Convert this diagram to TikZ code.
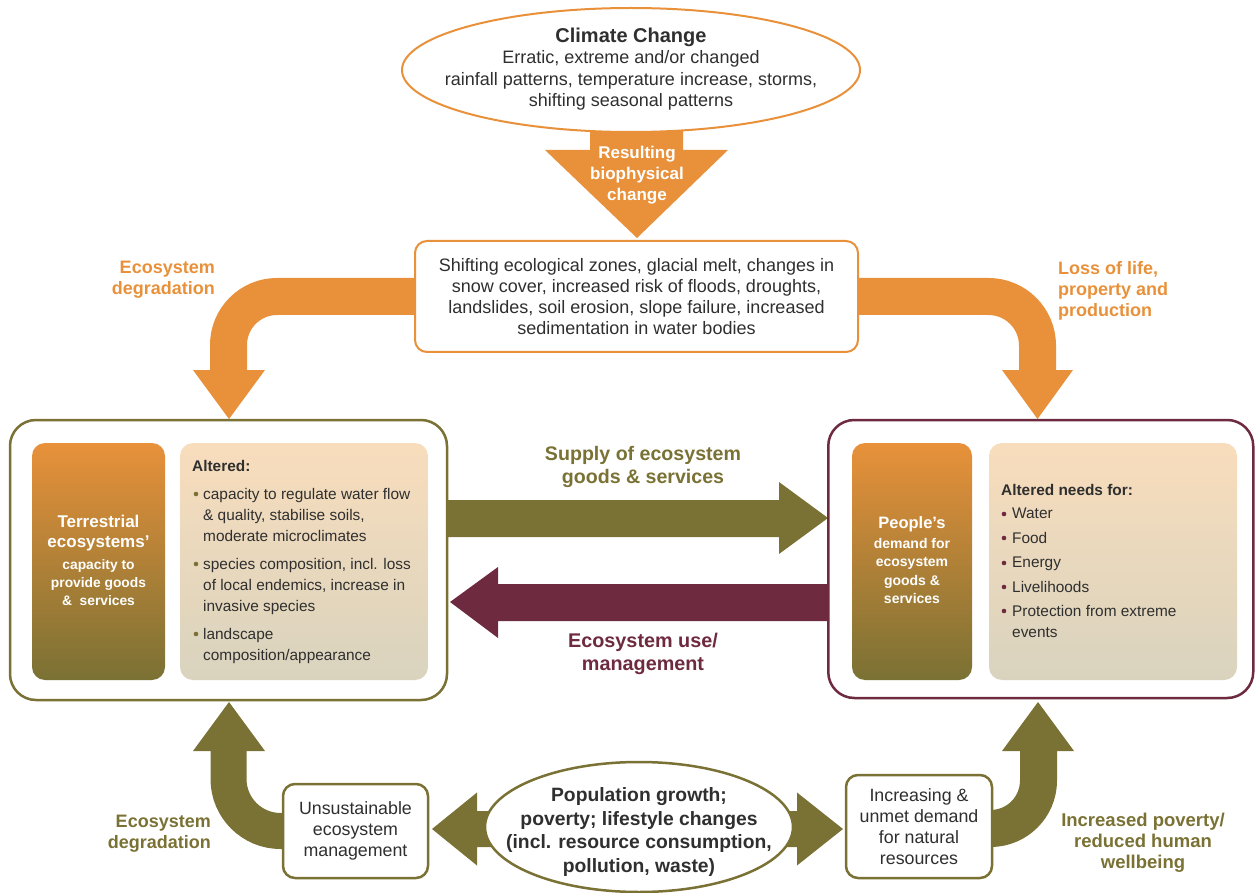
\documentclass[tikz,border=0pt]{standalone}
\usepackage{fontspec}
\setmainfont{Liberation Sans}
\usetikzlibrary{shapes.geometric,calc}
\definecolor{corange}{HTML}{E8913A}
\definecolor{colive}{HTML}{7A7134}
\definecolor{cmaroon}{HTML}{6E2A3F}
\definecolor{ctext}{HTML}{2F2F2F}
\definecolor{cpeach}{HTML}{F8DDBC}
\definecolor{cbeige}{HTML}{D9D3BE}
\newcommand{\myfs}[2]{\fontsize{#1}{#2}\selectfont}
\pgfdeclarelayer{background}
\pgfsetlayers{background,main}
\begin{document}
\begin{tikzpicture}[x=1pt,y=-1pt,
  txt/.style={inner sep=0pt, text=ctext, align=center},
  lbl/.style={inner sep=0pt, font=\bfseries\myfs{18}{21}},
  bigbox/.style={draw, line width=2.5pt, rounded corners=26pt, fill=white},
  darkgrad/.style={rounded corners=13pt, top color=corange, bottom color=colive, draw=none},
  lightgrad/.style={rounded corners=13pt, top color=cpeach, bottom color=cbeige, draw=none},
  smallbox/.style={draw=colive, line width=2.5pt, rounded corners=12pt, fill=white, inner sep=0pt, text=ctext, align=center, font=\myfs{17.8}{21}},
  innertxt/.style={anchor=north west, inner sep=0pt, text=ctext, align=left, font=\myfs{15.4}{21}},
  band/.style={line width=37pt},
]
\useasboundingbox (0,0) rectangle (1256,893);

% ---------- nodes ----------
\node[ellipse, draw=corange, line width=2pt, fill=white, minimum width=458pt, minimum height=124pt, inner sep=0pt] (ccell) at (631,70) {};
\node[txt, font=\myfs{18}{21.5}] (cc) at (631,69) {{\bfseries\myfs{20}{21.5}Climate Change}\\Erratic, extreme and/or changed\\rainfall patterns, temperature increase, storms,\\shifting seasonal patterns};

\node[inner sep=0pt, text=white, align=center, font=\bfseries\myfs{17}{21}] (res) at (637,175.5) {Resulting\\biophysical\\change};

\node[draw=corange, line width=2pt, rounded corners=12pt, fill=white, minimum width=443pt, minimum height=111pt, inner sep=0pt, text=ctext, align=center, font=\myfs{18}{21}] (mid) at (636.5,296.5) {Shifting ecological zones, glacial melt, changes in\\snow cover, increased risk of floods, droughts,\\landslides, soil erosion, slope failure, increased\\sedimentation in water bodies};

% left big box
\node[bigbox, draw=colive, minimum width=437pt, minimum height=280pt] (lbox) at (228.5,560) {};
\node[darkgrad, minimum width=133pt, minimum height=237pt] (lgrad) at (98.5,561.5) {};
\node[lightgrad, minimum width=248pt, minimum height=237pt] (llight) at (304,561.5) {};
\node[inner sep=0pt, text=white, align=center, font=\bfseries\myfs{17}{20}] (terr) at (98.5,533) {Terrestrial\\ecosystems’};
\node[inner sep=0pt, text=white, align=center, font=\bfseries\myfs{13.8}{18}] (terr2) at (98.5,583) {capacity to\\provide goods\\\& \ services};
\node[innertxt, font=\bfseries\myfs{15.4}{21}] (alt) at (192,460) {Altered:};
\node[innertxt] (lb1) at (203,488) {capacity to regulate water flow\\\& quality, stabilise soils,\\moderate microclimates};
\node[innertxt] (lb2) at (203,558) {species composition, incl. loss\\of local endemics, increase in\\invasive species};
\node[innertxt] (lb3) at (203,628) {landscape\\composition/appearance};
\foreach \yy in {494,564,634} \fill[colive] (196,\yy) circle (2.3pt);

% right big box
\node[bigbox, draw=cmaroon, minimum width=425pt, minimum height=278pt] (rbox) at (1040.75,559) {};
\node[darkgrad, minimum width=120pt, minimum height=237pt] (rgrad) at (912,561.5) {};
\node[lightgrad, minimum width=248pt, minimum height=237pt] (rlight) at (1113,561.5) {};
\node[inner sep=0pt, text=white, align=center, font=\bfseries\myfs{16.5}{20}] (peop) at (912,524) {People’s};
\node[inner sep=0pt, text=white, align=center, font=\bfseries\myfs{14}{18.3}] (peop2) at (912,571) {demand for\\ecosystem\\goods \&\\services};
\node[innertxt, font=\bfseries\myfs{15.4}{21}] (altn) at (1001,484) {Altered needs for:};
\node[innertxt] (rb1) at (1012,508) {Water};
\node[innertxt] (rb2) at (1012,532) {Food};
\node[innertxt] (rb3) at (1012,557) {Energy};
\node[innertxt] (rb4) at (1012,581) {Livelihoods};
\node[innertxt] (rb5) at (1012,605) {Protection from extreme\\events};
\foreach \yy in {514,538,563,587,611} \fill[cmaroon] (1004,\yy) circle (2.3pt);

% bottom
\node[smallbox, minimum width=145pt, minimum height=94pt] (unsus) at (355.5,831) {Unsustainable\\ecosystem\\management};
\node[smallbox, minimum width=146pt, minimum height=103pt] (incr) at (919,826.5) {Increasing \&\\unmet demand\\for natural\\resources};
\node[ellipse, draw=colive, line width=2.5pt, fill=white, minimum width=308pt, minimum height=130pt, inner sep=0pt] (popell) at (639,827) {};
\node[txt, font=\bfseries\myfs{19.3}{23.7}] (pop) at (639,832) {Population growth;\\poverty; lifestyle changes\\(incl. resource consumption,\\pollution, waste)};

% labels
\node[lbl, text=corange, anchor=east, align=right] (edtop) at (215,279.5) {Ecosystem\\degradation};
\node[lbl, text=corange, anchor=west, align=left] (loss) at (1058,291) {Loss of life,\\property and\\production};
\node[inner sep=0pt, text=colive, align=center, font=\bfseries\myfs{19.6}{23}] (supl) at (643,466.5) {Supply of ecosystem\\goods \& services};
\node[inner sep=0pt, text=cmaroon, align=center, font=\bfseries\myfs{19.8}{23}] (usel) at (643,653.5) {Ecosystem use/\\management};
\node[lbl, text=colive, anchor=east, align=right] (edbot) at (211,833.5) {Ecosystem\\degradation};
\node[lbl, text=colive, align=center, font=\bfseries\myfs{18.5}{21}] (pov) at (1143,843) {Increased poverty/\\reduced human\\wellbeing};

% ---------- connectors (behind) ----------
\begin{pgfonlayer}{background}
% climate change -> biophysical change
\fill[corange] (590,120) -- (683,120) -- (683,150) -- (728,150) -- (637,238) -- (545,150) -- (590,150) -- cycle;
% mid -> left box
\draw[corange, band, rounded corners=48.5pt] (mid.west) -- (228.5,296.5) -- (228.5,372);
\fill[corange] (193,370) -- (265,370) -- (229,419) -- cycle;
% mid -> right box
\draw[corange, band, rounded corners=49pt] (mid.east) -- (1037.5,296.5) -- (1037.5,372);
\fill[corange] (1002,370) -- (1073,370) -- (1037.5,419) -- cycle;
% supply
\fill[colive] (446,500) -- (779,500) -- (779,482) -- (828,518) -- (779,554) -- (779,537) -- (446,537) -- cycle;
% use
\fill[cmaroon] (829,584) -- (498,584) -- (498,567) -- (450,602) -- (498,638) -- (498,621) -- (829,621) -- cycle;
% unsustainable -> left box
\draw[colive, line width=36pt, rounded corners=52pt] (unsus.west) -- (228.5,831) -- (228.5,749);
\fill[colive] (193,751) -- (265,751) -- (229,702) -- cycle;
% increasing -> right box
\draw[colive, band, rounded corners=48pt] (incr.east |- 0,828.5) -- (1038.5,828.5) -- (1038.5,749);
\fill[colive] (1002,751) -- (1074,751) -- (1038,702) -- cycle;
% population double arrow
\fill[colive] (432,829) -- (477,792.5) -- (477,811) -- (797,811) -- (797,792.5) -- (843,829) -- (797,865.5) -- (797,847) -- (477,847) -- (477,865.5) -- cycle;
\end{pgfonlayer}
\end{tikzpicture}
\end{document}
